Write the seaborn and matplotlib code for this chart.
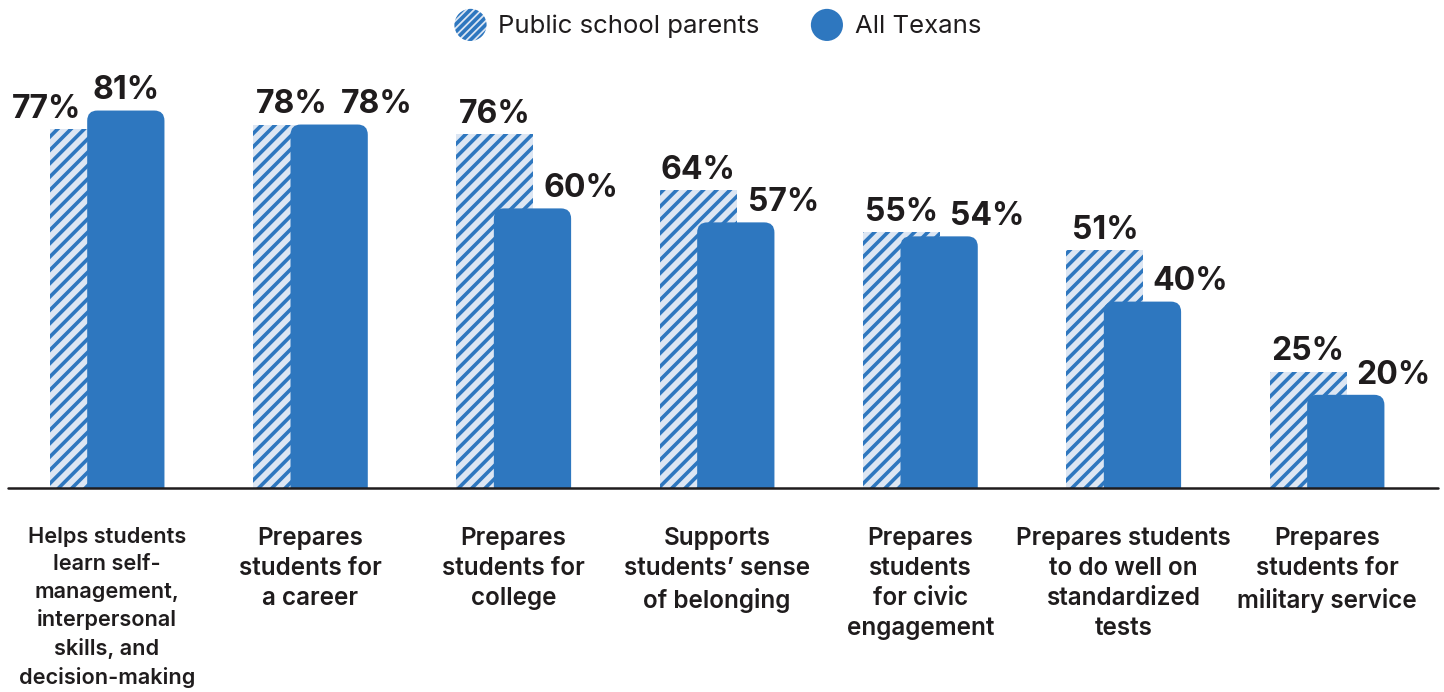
import numpy as np
import pandas as pd
import matplotlib
matplotlib.use("Agg")
import matplotlib.pyplot as plt
import matplotlib.patches as mpatches
from matplotlib.legend_handler import HandlerPatch
import seaborn as sns

categories = [
    "Helps students\nlearn self-\nmanagement,\ninterpersonal\nskills, and\ndecision-making",
    "Prepares\nstudents for\na career",
    "Prepares\nstudents for\ncollege",
    "Supports\nstudents\u2019 sense\nof belonging",
    "Prepares\nstudents\nfor civic\nengagement",
    "Prepares students\nto do well on\nstandardized\ntests",
    "Prepares\nstudents for\nmilitary service",
]
parents = [77, 78, 76, 64, 55, 51, 25]
texans = [81, 78, 60, 57, 54, 40, 20]
series = ["Public school parents", "All Texans"]

BLUE = "#2e77bf"
LIGHT = "#dce6f3"
TXT = "#1f1c1d"

DPI = 160
K = 100 / DPI  # converts "points at 100 dpi" to points at DPI

sns.set_theme(style="white")
plt.rcParams["font.family"] = ["Inter", "DejaVu Sans"]
plt.rcParams["hatch.linewidth"] = 3.6 * 72 / DPI
plt.rcParams["hatch.color"] = BLUE

fig = plt.figure(figsize=(1444 / DPI, 692 / DPI), dpi=DPI)
ax = fig.add_axes([8 / 1444, (692 - 488) / 692, 1430 / 1444, (488 - 22) / 692])

idx = np.arange(len(categories))
off = 0.0925
bw = 0.38
df_p = pd.DataFrame({"x": idx - off, "v": parents})
df_t = pd.DataFrame({"x": idx + off, "v": texans})

sns.barplot(data=df_p, x="x", y="v", native_scale=True, width=bw, color=LIGHT,
            saturation=1, errorbar=None, ax=ax, edgecolor=BLUE, linewidth=0, hatch="////")
n0 = len(ax.patches)
sns.barplot(data=df_t, x="x", y="v", native_scale=True, width=bw, color=BLUE,
            saturation=1, errorbar=None, ax=ax, linewidth=0)

for p in list(ax.patches[:n0]):
    p.set_edgecolor(BLUE)
    p.set_linewidth(0)

rx, ry = 0.05, 2.2
for p in list(ax.patches[n0:]):
    x0, w, h = p.get_x(), p.get_width(), p.get_height()
    p.set_visible(False)
    fb = mpatches.FancyBboxPatch((x0, -2 * ry), w, h + 2 * ry,
                                 boxstyle=f"round,pad=0,rounding_size={rx}",
                                 mutation_aspect=ry / rx, facecolor=BLUE,
                                 edgecolor="none", linewidth=0, zorder=3)
    ax.add_patch(fb)

VFS = 23 * K
for i in idx:
    pv, tv = parents[i], texans[i]
    dxp = -0.207 if tv > pv else 0.0
    dxt = 0.236 if pv >= tv else 0.0
    ax.annotate(f"{pv}%", (i - off + dxp, pv), xytext=(0, 8 * K), textcoords="offset points",
                ha="center", va="baseline", fontsize=VFS, fontweight="bold", color=TXT)
    ax.annotate(f"{tv}%", (i + off + dxt, tv), xytext=(0, 8 * K), textcoords="offset points",
                ha="center", va="baseline", fontsize=VFS, fontweight="bold", color=TXT)

ax.axhline(0, color=TXT, lw=1.8 * K, zorder=5, clip_on=False)
ax.set_xlim(-0.487, 6.546)
ax.set_ylim(0, 100)
ax.set_yticks([])
ax.set_xticks(idx)
ax.set_xticklabels(categories, fontsize=17.5 * K, fontweight="semibold", linespacing=1.4,
                   va="top", color=TXT)
first = ax.get_xticklabels()[0]
first.set_fontsize(15.6 * K)
first.set_linespacing(1.46)
ax.tick_params(axis="x", length=0, pad=28 * K)
ax.set_xlabel("")
ax.set_ylabel("")
for s in ax.spines.values():
    s.set_visible(False)


class HandlerCircle(HandlerPatch):
    def create_artists(self, legend, orig_handle, xdescent, ydescent, width, height,
                       fontsize, trans):
        r = min(width, height) / 2
        c = mpatches.Circle((width / 2 - xdescent, height / 2 - ydescent), r)
        self.update_prop(c, orig_handle, legend)
        c.set_transform(trans)
        return [c]


h1 = mpatches.Patch(facecolor=LIGHT, edgecolor=BLUE, hatch="///////", linewidth=0)
h2 = mpatches.Patch(facecolor=BLUE, edgecolor=BLUE, linewidth=0)
fig.legend([h1, h2], series, handler_map={mpatches.Patch: HandlerCircle()},
           loc="center", bbox_to_anchor=(0.497, 0.964), ncol=2, frameon=False,
           fontsize=18.5 * K, handlelength=1.25, handleheight=1.75, handletextpad=0.45,
           columnspacing=2.0, labelcolor=TXT)

fig.savefig("out.png", dpi=DPI)
